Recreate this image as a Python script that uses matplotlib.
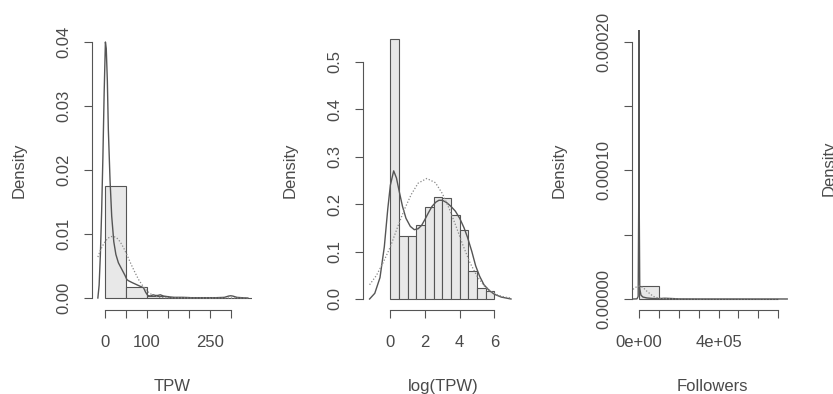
import numpy as np
import matplotlib
matplotlib.use("Agg")
import matplotlib.pyplot as plt

plt.rcParams["font.family"] = ["Liberation Sans", "DejaVu Sans"]
plt.rcParams["font.size"] = 12

# --- panel 1: TPW ---
tpw_edges = [0, 50, 100, 150, 200, 250, 300, 350]
tpw_dens = [0.0175, 0.00178, 0.0003, 0.0001, 0.00003, 0.00003, 0.00004]
tpw_kde_x = [-17, -14, -11, -8, -5, -2, 1, 3, 5.6, 8, 12, 16, 21, 26, 32, 40, 48, 52,
             56, 65, 75, 85, 92, 97, 102, 108, 115, 120, 126, 132, 140, 150, 165, 185,
             205, 225, 245, 265, 285, 295, 300, 305, 315, 330, 341]
tpw_kde_y = [0, 0.002, 0.0068, 0.0135, 0.022, 0.032, 0.0400, 0.039, 0.034, 0.0263,
             0.0185, 0.0128, 0.0088, 0.0068, 0.0055, 0.0045, 0.0035, 0.0029, 0.0027,
             0.0024, 0.0021, 0.0018, 0.0016, 0.0009, 0.0004, 0.0003, 0.0005, 0.0004,
             0.0004, 0.0005, 0.0003, 0.0002, 0.0001, 0.0001, 0.00005, 0.00005, 0.00005,
             0.00005, 0.0001, 0.0003, 0.00035, 0.0003, 0.0001, 0.00003, 0]
tpw_norm_x = [-17, -10, -2, 6, 14, 21, 28, 36, 44, 52, 60, 70, 80, 90, 100, 110, 120,
              130, 150, 200, 341]
tpw_norm_y = [0.0064, 0.0076, 0.0086, 0.0093, 0.0096, 0.0096, 0.0094, 0.0088, 0.0079,
              0.0068, 0.0056, 0.0042, 0.0029, 0.0019, 0.0011, 0.0006, 0.0003, 0.0001,
              0.00002, 0.0, 0.0]

# --- panel 2: log(TPW) ---
ltpw_edges = [0, 0.5, 1, 1.5, 2, 2.5, 3, 3.5, 4, 4.5, 5, 5.5, 6]
ltpw_dens = [0.547, 0.133, 0.133, 0.155, 0.194, 0.214, 0.212, 0.176, 0.146, 0.058,
             0.024, 0.016]
ltpw_kde_x = [-1.2, -0.9, -0.6, -0.35, -0.15, 0.0, 0.19, 0.35, 0.52, 0.7, 0.9, 1.15,
              1.38, 1.6, 1.8, 2.0, 2.2, 2.4, 2.62, 2.8, 3.0, 3.25, 3.5, 3.75, 4.0,
              4.25, 4.45, 4.7, 4.92, 5.15, 5.4, 5.7, 6.0, 6.4, 6.96]
ltpw_kde_y = [0.0, 0.012, 0.045, 0.11, 0.19, 0.24, 0.27, 0.255, 0.225, 0.195, 0.17,
              0.153, 0.146, 0.148, 0.155, 0.168, 0.182, 0.195, 0.204, 0.208, 0.208,
              0.203, 0.195, 0.185, 0.17, 0.15, 0.13, 0.1, 0.07, 0.048, 0.03, 0.018,
              0.01, 0.004, 0.0]
ltpw_norm_x = [-1.2, -0.8, -0.4, 0.0, 0.4, 0.8, 1.2, 1.6, 2.1, 2.6, 3.0, 3.4, 3.8, 4.2,
               4.6, 5.0, 5.4, 5.8, 6.2, 6.6, 6.96]
ltpw_norm_y = [0.030, 0.050, 0.078, 0.110, 0.150, 0.188, 0.220, 0.244, 0.254, 0.245,
               0.222, 0.190, 0.152, 0.112, 0.076, 0.048, 0.028, 0.016, 0.008, 0.004,
               0.002]

# --- panel 3: Followers ---
fol_edges = [0, 1e5, 2e5, 3e5, 4e5, 5e5, 6e5, 7e5]
fol_dens = [9.9e-6, 6e-8, 2e-8, 1e-8, 1e-8, 5e-9, 5e-9]
fol_kde_x = [-0.3e5, -0.1e5, -0.04e5, -0.01e5, 0, 0.01e5, 0.04e5, 0.1e5, 0.2e5, 0.4e5,
             0.7e5, 1.0e5, 1.3e5, 1.6e5, 2.0e5, 3e5, 4e5, 5e5, 6e5, 7e5, 7.45e5]
fol_kde_y = [0, 1e-7, 2e-6, 8e-5, 3e-4, 8e-5, 8e-6, 3e-6, 1.5e-6, 8e-7, 4e-7, 3e-7,
             6e-7, 4e-7, 1e-7, 5e-8, 3e-8, 3e-8, 2e-8, 1e-8, 0]
fol_norm_x = [-0.3e5, -0.15e5, 0.02e5, 0.2e5, 0.4e5, 0.72e5, 1.0e5, 1.5e5, 3e5, 7.45e5]
fol_norm_y = [7.5e-6, 9.2e-6, 1.0e-5, 9e-6, 6e-6, 2e-6, 6e-7, 5e-8, 0, 0]

TXT = "#4a4a4a"
LINE = "#555555"

W, H = 833, 394
fig = plt.figure(figsize=(W / 100, H / 100), dpi=100)


def make_ax(left_px, xlim, ylim):
    # plot region: 160 px wide, from y=30 to y=310 (pixels from the top)
    ax = fig.add_axes([left_px / W, (H - 310) / H, 160 / W, 280 / H])
    ax.set_xlim(*xlim)
    ax.set_ylim(*ylim)
    for s in ("top", "right"):
        ax.spines[s].set_visible(False)
    for s in ("left", "bottom"):
        ax.spines[s].set_color(LINE)
        ax.spines[s].set_linewidth(0.8)
    ax.tick_params(direction="out", length=6, width=0.8, color=LINE, labelcolor=TXT)
    ax.tick_params(axis="y", labelrotation=90, pad=9)
    ax.tick_params(axis="x", pad=12)
    ax.patch.set_visible(False)
    return ax


def draw(ax, edges, dens, kx, ky, nx, ny, xticks, xlabels, yticks, ylabels, xlabel):
    ax.bar(edges[:-1], dens, width=np.diff(edges), align="edge",
           color="#e8e8e8", edgecolor=LINE, linewidth=0.8)
    ax.plot(kx, ky, color=LINE, lw=1.0)
    ax.plot(nx, ny, color="#888888", lw=0.9, ls=(0, (1, 1.5)))
    ax.set_xticks(xticks)
    ax.set_xticklabels(xlabels)
    ax.set_yticks(yticks)
    ax.set_yticklabels(ylabels, va="center")
    ax.spines["bottom"].set_bounds(xticks[0], xticks[-1])
    ax.spines["left"].set_bounds(yticks[0], yticks[-1])
    ax.set_xlabel(xlabel, color=TXT, labelpad=21)
    ax.set_ylabel("Density", color=TXT, labelpad=21)


ax1 = make_ax(92, (-31, -31 + 160 / 0.419), (-0.001875, 0.041875))
draw(ax1, tpw_edges, tpw_dens, tpw_kde_x, tpw_kde_y, tpw_norm_x, tpw_norm_y,
     [0, 50, 100, 150, 200, 250, 300], ["0", "", "100", "", "", "250", ""],
     [0, 0.01, 0.02, 0.03, 0.04], ["0.00", "0.01", "0.02", "0.03", "0.04"], "TPW")

ax2 = make_ax(363, (-1.58, -1.58 + 160 / 17.33), (-0.0232, 0.5668))
draw(ax2, ltpw_edges, ltpw_dens, ltpw_kde_x, ltpw_kde_y, ltpw_norm_x, ltpw_norm_y,
     [0, 2, 4, 6], ["0", "2", "4", "6"],
     [0, 0.1, 0.2, 0.3, 0.4, 0.5], ["0.0", "0.1", "0.2", "0.3", "0.4", "0.5"],
     "log(TPW)")

ax3 = make_ax(632, (-0.35e5, -0.35e5 + 160 / 19.9e-5), (-8.55e-6, 2.09e-4))
draw(ax3, fol_edges, fol_dens, fol_kde_x, fol_kde_y, fol_norm_x, fol_norm_y,
     [0, 1e5, 2e5, 3e5, 4e5, 5e5, 6e5, 7e5], ["0e+00", "", "", "", "4e+05", "", "", ""],
     [0, 5e-5, 1e-4, 1.5e-4, 2e-4], ["0.00000", "", "0.00010", "", "0.00020"],
     "Followers")

# fourth panel is cut off by the right edge in the original: only its y label shows
fig.text(829 / W, 1 - 168 / H, "Density", rotation=90, ha="center", va="center",
         color=TXT, fontsize=12)

fig.savefig("out.png", dpi=100)
